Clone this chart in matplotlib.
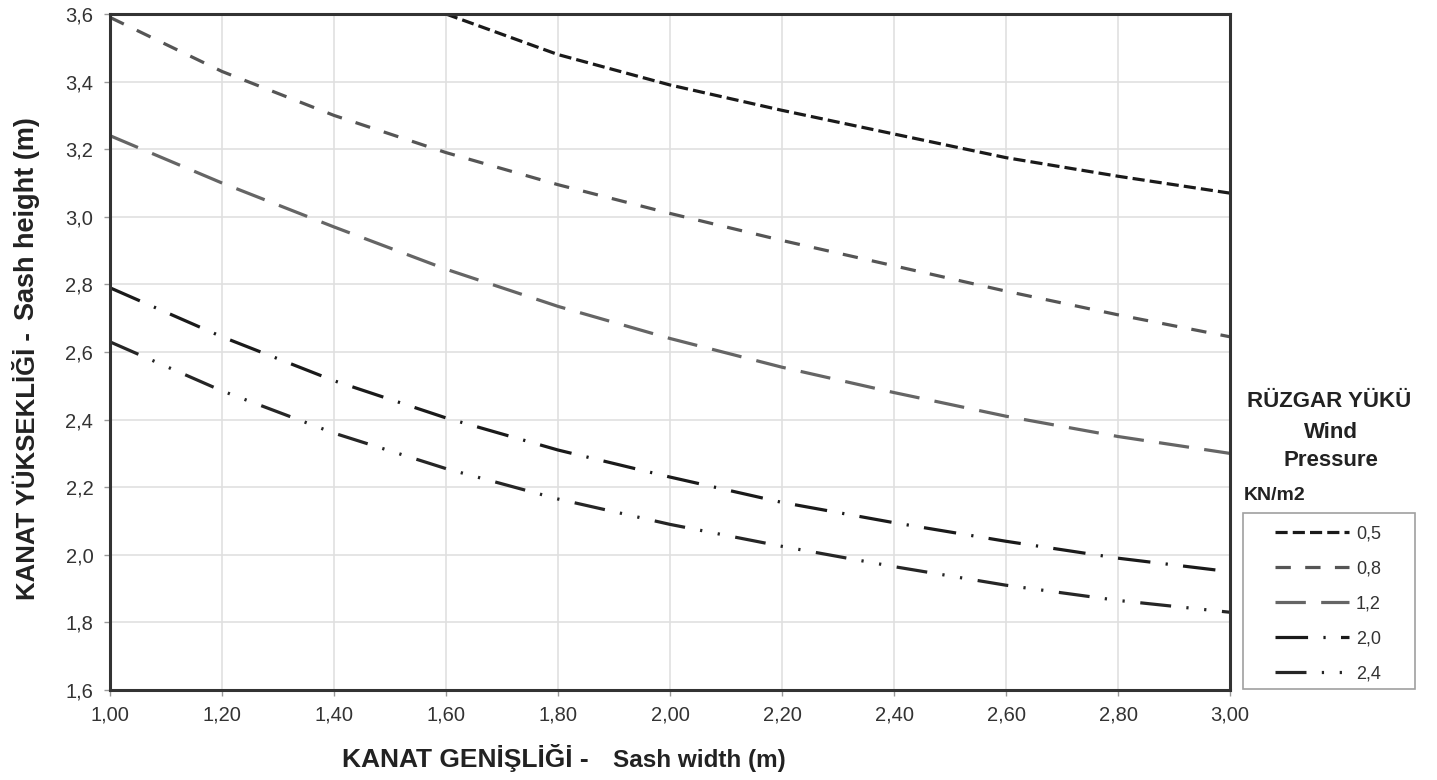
import matplotlib
matplotlib.use("Agg")
import matplotlib.pyplot as plt
from matplotlib.patches import Rectangle

plt.rcParams['font.family'] = ['Liberation Sans', 'DejaVu Sans']

# ---- data ----
widths = [1.0, 1.2, 1.4, 1.6, 1.8, 2.0, 2.2, 2.4, 2.6, 2.8, 3.0]
w_05 = [1.6, 1.8, 2.0, 2.2, 2.4, 2.6, 2.8, 3.0]
h_05 = [3.60, 3.48, 3.39, 3.315, 3.245, 3.175, 3.12, 3.07]
h_08 = [3.59, 3.43, 3.30, 3.19, 3.095, 3.01, 2.93, 2.855, 2.78, 2.71, 2.645]
h_12 = [3.24, 3.10, 2.97, 2.845, 2.735, 2.64, 2.555, 2.48, 2.41, 2.35, 2.30]
h_20 = [2.79, 2.645, 2.515, 2.405, 2.31, 2.23, 2.155, 2.095, 2.04, 1.99, 1.95]
h_24 = [2.63, 2.485, 2.36, 2.255, 2.165, 2.09, 2.025, 1.965, 1.91, 1.865, 1.83]
labels = ["0,5", "0,8", "1,2", "2,0", "2,4"]
x_ticks = [1.0, 1.2, 1.4, 1.6, 1.8, 2.0, 2.2, 2.4, 2.6, 2.8, 3.0]
x_ticklabels = ["1,00", "1,20", "1,40", "1,60", "1,80", "2,00", "2,20", "2,40", "2,60", "2,80", "3,00"]
y_ticks = [1.6, 1.8, 2.0, 2.2, 2.4, 2.6, 2.8, 3.0, 3.2, 3.4, 3.6]
y_ticklabels = ["1,6", "1,8", "2,0", "2,2", "2,4", "2,6", "2,8", "3,0", "3,2", "3,4", "3,6"]

W, H = 1437, 780
fig = plt.figure(figsize=(W / 100, H / 100), dpi=100)
fig.patch.set_facecolor('white')
ax = fig.add_axes([110 / W, 1 - 690 / H, (1230 - 110) / W, (690 - 14) / H])

lw = 2.3
series = [
    (w_05, h_05, '#1a1a1a', (0, (3.8, 1.6))),
    (widths, h_08, '#555555', (0, (4.8, 4.5))),
    (widths, h_12, '#656565', (0, (9.5, 4.8))),
    (widths, h_20, '#1a1a1a', (0, (10.2, 4.8, 0.7, 4.8))),
    (widths, h_24, '#262626', (0, (9.7, 4.8, 0.7, 4.9, 0.7, 4.9))),
]
for (xs, ys, c, ls), lab in zip(series, labels):
    ax.plot(xs, ys, color=c, lw=lw, linestyle=ls, label=lab,
            dash_capstyle='butt', solid_capstyle='butt')

ax.set_xlim(1.0, 3.0)
ax.set_ylim(1.6, 3.6)
ax.set_xticks(x_ticks)
ax.set_xticklabels(x_ticklabels)
ax.set_yticks(y_ticks)
ax.set_yticklabels(y_ticklabels)
ax.grid(True, color='#e0e0e0', lw=1.2)
ax.set_axisbelow(True)
for sp in ax.spines.values():
    sp.set_color('#333333')
    sp.set_linewidth(2.2)
ax.tick_params(axis='both', direction='out', length=4, width=1, color='#999999',
               labelsize=14.5, labelcolor='#333333')
ax.tick_params(axis='x', pad=7)
ax.tick_params(axis='y', pad=8)

# axis labels
fig.text(342 / W, 1 - 767 / H, "KANAT GENİŞLİĞİ -", fontsize=19, fontweight='bold',
         color='#222222', ha='left', va='baseline')
fig.text(613 / W, 1 - 767 / H, "Sash width (m)", fontsize=17.5, fontweight='bold',
         color='#222222', ha='left', va='baseline')
fig.text(28 / W, 1 - 600 / H, "KANAT YÜKSEKLİĞİ -", fontsize=18.5, fontweight='bold',
         color='#222222', ha='center', va='bottom', rotation=90)
fig.text(27 / W, 1 - 320 / H, "Sash height (m)", fontsize=19.5, fontweight='bold',
         color='#222222', ha='center', va='bottom', rotation=90)

# legend title texts
fig.text(1329 / W, 1 - 402 / H, "RÜZGAR YÜKÜ", fontsize=16, fontweight='bold',
         color='#222222', ha='center', va='center')
fig.text(1331 / W, 1 - 433 / H, "Wind", fontsize=16, fontweight='bold',
         color='#222222', ha='center', va='center')
fig.text(1331 / W, 1 - 460 / H, "Pressure", fontsize=16, fontweight='bold',
         color='#222222', ha='center', va='center')
fig.text(1244 / W, 1 - 495 / H, "KN/m2", fontsize=14, fontweight='bold',
         color='#222222', ha='left', va='center')

# legend frame
fig.patches.append(Rectangle((1243 / W, 1 - 689 / H), (1415 - 1243) / W, (689 - 513) / H,
                             transform=fig.transFigure, fill=False,
                             edgecolor='#a0a0a0', lw=1.2))

leg = ax.legend(loc='upper left', bbox_to_anchor=(1270 / W, 1 - 520 / H),
                bbox_transform=fig.transFigure, frameon=False,
                fontsize=13, handlelength=4.1,
                handletextpad=0.35, labelspacing=1.0, borderpad=0.3,
                borderaxespad=0)
for t in leg.get_texts():
    t.set_color('#333333')

fig.savefig("out.png", dpi=100, facecolor='white')
